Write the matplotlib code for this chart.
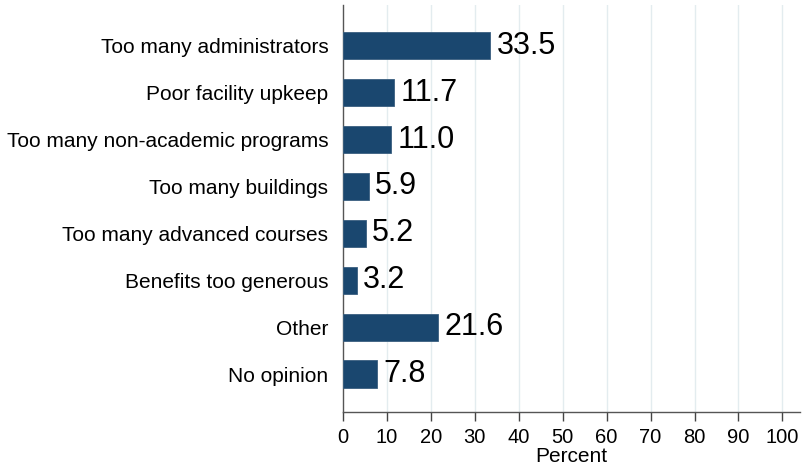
import matplotlib
matplotlib.use("Agg")
import matplotlib.pyplot as plt

categories = ["Too many administrators", "Poor facility upkeep", "Too many non-academic programs",
              "Too many buildings", "Too many advanced courses", "Benefits too generous",
              "Other", "No opinion"]
values = [33.5, 11.7, 11.0, 5.9, 5.2, 3.2, 21.6, 7.8]
xticks = [0, 10, 20, 30, 40, 50, 60, 70, 80, 90, 100]

plt.rcParams['font.family'] = ['Liberation Sans', 'DejaVu Sans']

fig = plt.figure(figsize=(8.02, 4.70), dpi=100)
ax = fig.add_axes([343/802, 1 - 412/470, (800 - 343)/802, (412 - 5)/470])

pos = list(range(len(categories)))
ax.barh(pos, values, height=0.58, color="#1a476f", edgecolor="#3a5f80", linewidth=0.6, zorder=3)
for p, v in zip(pos, values):
    ax.text(v + 1.4, p, f"{v:.1f}", va="center", ha="left", fontsize=22, color="black", zorder=4)

ax.set_xlim(0, 104)
ax.set_ylim(7.81, -0.87)
ax.set_xticks(xticks)
ax.set_xticklabels([str(t) for t in xticks], fontsize=14.5)
ax.set_yticks(pos)
ax.set_yticklabels(categories, fontsize=15)
ax.tick_params(axis="y", length=0, pad=10.5)
ax.tick_params(axis="x", length=6.5, width=1, color="#444444", pad=5)
for t in xticks[1:]:
    ax.axvline(t, color="#e3ecef", linewidth=1, zorder=1)
for s in ["top", "right"]:
    ax.spines[s].set_visible(False)
for s in ["left", "bottom"]:
    ax.spines[s].set_color("#555555")
    ax.spines[s].set_linewidth(1)
ax.set_xlabel("Percent", fontsize=15, labelpad=0)

fig.savefig("out.png", dpi=100)
